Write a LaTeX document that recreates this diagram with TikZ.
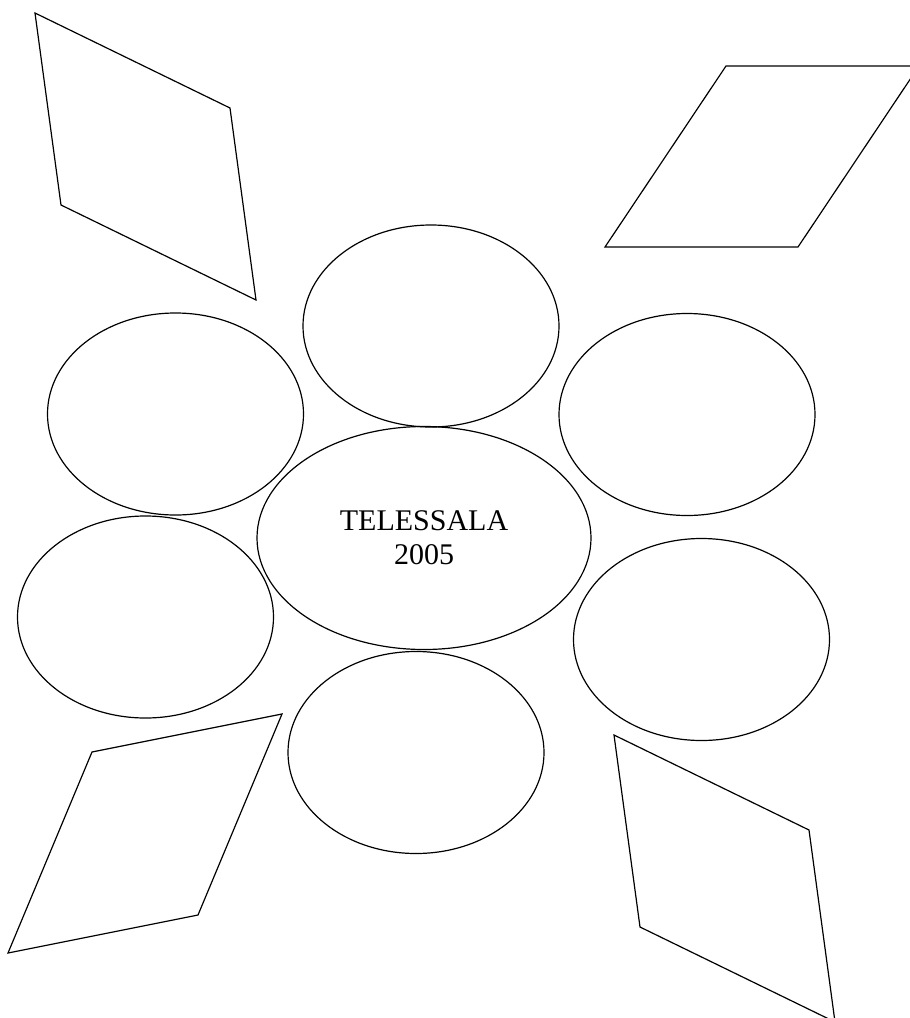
\documentclass[tikz,border=0pt]{standalone}
\usepackage{fontspec}
\setmainfont{Liberation Serif}
\usetikzlibrary{shapes.geometric}

\begin{document}
\begin{tikzpicture}[x=1pt,y=-1pt,line width=1.2pt,
    bubble/.style={draw,ellipse,inner sep=0pt,minimum width=256pt,minimum height=202pt},
    centro/.style={draw,ellipse,inner sep=0pt,minimum width=334pt,minimum height=223pt,
                   align=center,font=\fontsize{30}{34}\selectfont}]
        \useasboundingbox (0,0) rectangle (910,1018);
        \clip (0,0) rectangle (910,1018);
        %ellisse centrale
        \node[centro] (centro) at (424,538) {TELESSALA\\2005};
        %ellissi attorno
        \node[bubble] (su) at (431,326) {};
        \node[bubble] (sxsu) at (175.5,414) {};
        \node[bubble] (dxsu) at (687,414.5) {};
        \node[bubble] (sxgiu) at (145.5,617) {};
        \node[bubble] (dxgiu) at (701.5,639.5) {};
        \node[bubble] (giu) at (416,752.5) {};
        %parallelogrammi
            \draw[line join=miter](35,13)--++(195,95)--++(26,192)--++(-195,-95)--cycle;
            \draw[line join=miter](726,66)--++(193,0)--++(-121,181)--++(-193,0)--cycle;
            \draw[line join=miter](92,752)--++(190,-38)--++(-84,201)--++(-190,38)--cycle;
            \draw[line join=miter](614,735)--++(195,95)--++(26,192)--++(-195,-95)--cycle;
\end{tikzpicture}
\end{document}
